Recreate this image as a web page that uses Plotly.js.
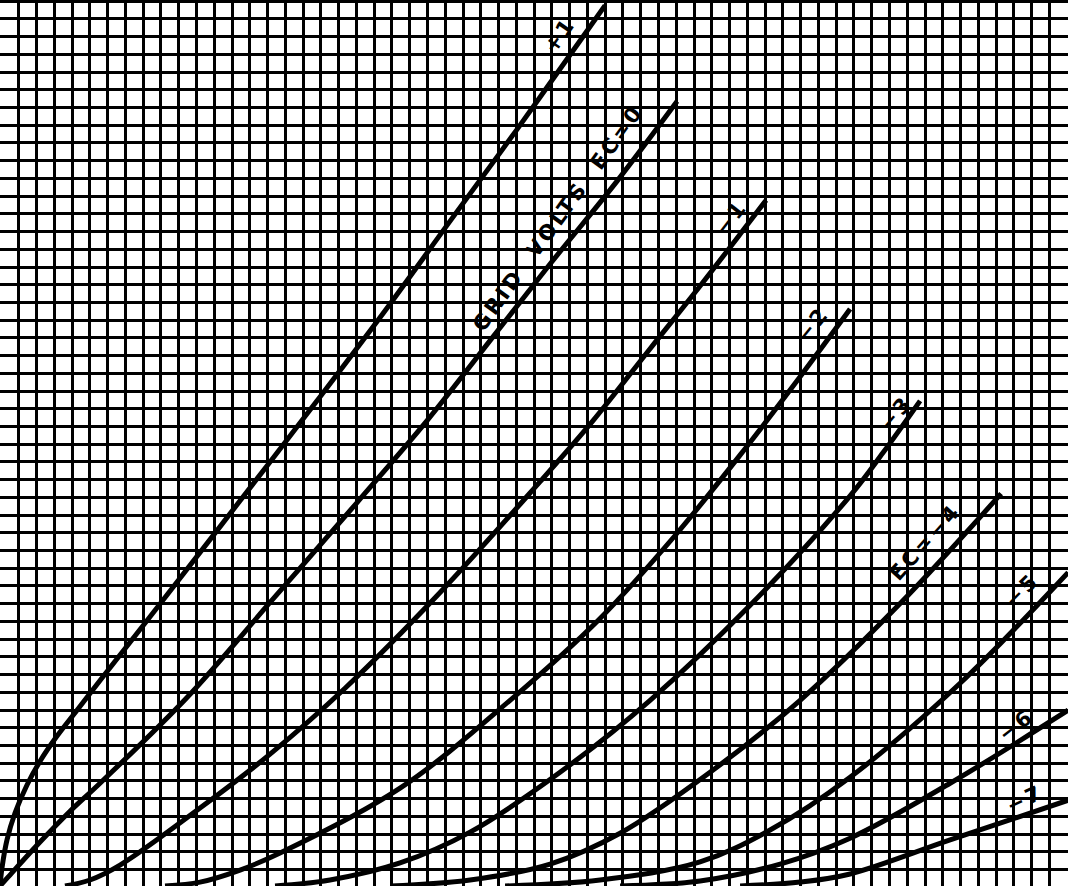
<!DOCTYPE html>
<html><head><meta charset="utf-8">
<script src="https://cdn.plot.ly/plotly-3.0.1.min.js"></script>
<style>html,body{margin:0;padding:0;background:#fff;overflow:hidden}#chart{width:1068px;height:886px}</style>
</head><body><div id="chart"></div>
<script>
// Plate characteristic curves: plate volts (x) vs plate milliamperes (y), one curve per grid voltage
const gridVolts = ["+1", "0", "-1", "-2", "-3", "-4", "-5", "-6", "-7"];

const ep_p1 = [0, 0.56, 1.97, 4.22, 7.60, 11.26, 16.04, 21.67, 28.14, 46.43, 67.54, 89.20, 108.34, 126.63, 145.48, 164.06, 170.25];
const ip_p1 = [0, 0.51, 1.30, 2.06, 2.85, 3.52, 4.23, 4.96, 5.80, 8.14, 10.87, 13.69, 16.23, 18.76, 21.35, 23.97, 24.85];

const ep_0 = [0, 2.25, 11.26, 19.70, 28.14, 52.62, 75.98, 100.46, 120.16, 135.63, 154.77, 173.62, 190.51];
const ip_0 = [0, 0.25, 1.24, 2.11, 2.90, 5.32, 8.00, 10.82, 13.13, 15.10, 17.55, 19.89, 22.14];

const ep_m1 = [18.29, 25.33, 33.77, 56.28, 75.98, 97.08, 123.82, 151.96, 166.87, 182.91, 196.98, 210.21, 215.55];
const ip_m1 = [0, 0.17, 0.59, 2.20, 3.72, 5.58, 8.28, 11.41, 13.13, 15.16, 16.93, 18.65, 19.35];

const ep_m2 = [46.43, 56.28, 67.54, 78.79, 112.56, 143.51, 168.84, 189.95, 209.64, 225.12, 239.19];
const ip_m2 = [0, 0.11, 0.45, 0.93, 2.76, 5.24, 7.55, 9.89, 12.34, 14.37, 16.28];

const ep_m3 = [77.39, 92.86, 112.56, 132.26, 157.58, 182.91, 211.05, 239.19, 248.48, 258.89];
const ip_m3 = [0, 0.17, 0.65, 1.52, 3.21, 5.24, 7.92, 11.01, 12.23, 13.69];

const ep_m4 = [109.75, 132.26, 154.77, 174.47, 199.79, 225.12, 253.26, 281.68];
const ip_m4 = [0, 0.17, 0.62, 1.49, 3.21, 5.24, 7.97, 11.07];

const ep_m5 = [142.11, 168.84, 196.98, 216.68, 239.19, 270.14, 300.54];
const ip_m5 = [0, 0.17, 0.68, 1.58, 3.07, 5.72, 8.85];

const ep_m6 = [174.47, 196.98, 219.49, 239.19, 267.33, 300.54];
const ip_m6 = [0, 0.14, 0.62, 1.35, 2.90, 4.96];

const ep_m7 = [208.24, 225.12, 239.19, 267.33, 300.54];
const ip_m7 = [0, 0.11, 0.34, 1.30, 2.42];

const curveX = [ep_p1, ep_0, ep_m1, ep_m2, ep_m3, ep_m4, ep_m5, ep_m6, ep_m7];
const curveY = [ip_p1, ip_0, ip_m1, ip_m2, ip_m3, ip_m4, ip_m5, ip_m6, ip_m7];

const labelTexts = ["+1", "GRID  VOLTS  EC=0", "−1", "−2", "−3", "EC=−4", "−5", "−6", "−7"];

const traces = gridVolts.map((g, i) => ({
  type: 'scatter', mode: 'lines', name: 'Ec = ' + g,
  x: curveX[i], y: curveY[i],
  line: {color: '#000', width: 5, shape: 'spline', smoothing: 1.0},
  hoverinfo: 'skip'
}));

// label placement (x, y in data units) and angle along each curve
const labelPlace = [
  {x: 157.6, y: 24.00, a: -55},
  {x: 157.0, y: 18.85, a: -54},
  {x: 205.6, y: 18.85, a: -52},
  {x: 228.8, y: 15.85, a: -51},
  {x: 252.2, y: 13.35, a: -50},
  {x: 260.4, y: 9.70, a: -48},
  {x: 287.6, y: 8.35, a: -45},
  {x: 286.0, y: 4.55, a: -38},
  {x: 288.4, y: 2.45, a: -25}
];

const annotations = labelTexts.map((t, i) => ({
  x: labelPlace[i].x, y: labelPlace[i].y, xref: 'x', yref: 'y',
  text: '<span style="letter-spacing:3px">' + t + '</span>',
  showarrow: false, textangle: labelPlace[i].a,
  font: {family: 'DejaVu Sans', size: 21, color: '#000', weight: 'bold'},
  xanchor: 'center', yanchor: 'middle'
}));

const layout = {
  width: 1068, height: 886,
  margin: {l: 0, r: 0, t: 0, b: 0, pad: 0},
  paper_bgcolor: '#fff', plot_bgcolor: '#fff',
  showlegend: false,
  xaxis: {range: [0, 300.5], tick0: 0.28, dtick: 5, showgrid: true, gridcolor: '#000', gridwidth: 3,
          zeroline: false, showticklabels: false, ticks: '', showline: false, fixedrange: true},
  yaxis: {range: [0, 25.0], tick0: 0.466, dtick: 0.5, showgrid: true, gridcolor: '#000', gridwidth: 3,
          zeroline: false, showticklabels: false, ticks: '', showline: false, fixedrange: true},
  annotations: annotations
};

Plotly.newPlot('chart', traces, layout, {staticPlot: true, displayModeBar: false});
</script>
</body></html>
